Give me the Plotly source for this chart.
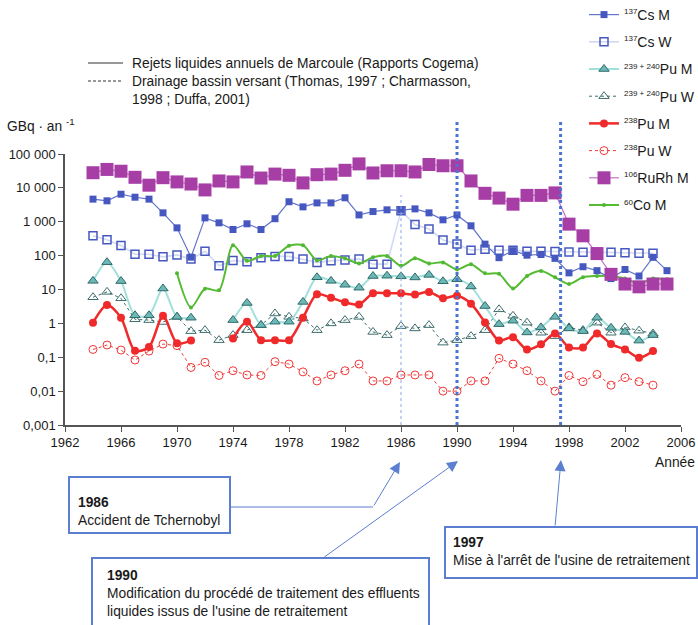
import plotly.graph_objects as go

# Annual liquid releases at Marcoule (M) and catchment drainage (W), GBq per year
years = list(range(1964, 2006))

cs137_m = [4650, 4150, 6500, 5300, 4650, 1830, 660, 90, 1300, 930,
           590, 870, 590, 1230, 3900, 2750, 3600, 3600, 5100, 1590,
           2000, 2250, 2200, 2400, 1830, 1140, 1590, 760, 218, 87,
           140, 103, 108, 83, 31, 47, 36, 21, 39, 25, 89, 36]
cs137_w = [385, 295, 200, 110, 110, 92, 105, 79, 135, 50,
           72, 66, 87, 95, 95, 79, 63, 70, 74, 80,
           56, 56, 2100, 830, 610, 290, 220, 145, 155, 145,
           145, 135, 135, 133, 128, 126, 125, 125, 122, 118, 118, None]
pu239_m = [18, 64, 17.7, 1.73, 1.73, 10.7, 1.56, 1.47, None, None,
           1.25, 4.0, 0.89, 1.12, 1.12, 4.3, 23, 18, 13.8, 11.3,
           25, 25.5, 24.5, 22.7, 27, 17.5, 20, 12.3, 3.25, 0.95,
           1.2, 0.54, 0.76, 1.56, 0.71, 0.59, 1.47, 0.74, 0.56, 0.31, 0.45, None]
pu239_w = [5.9, 8.5, 5.5, 1.32, 1.25, 1.1, 1.56, 0.59, 0.63, 0.32,
           0.45, 0.63, 0.89, 1.96, 1.56, 1.4, 0.63, 1.0, 1.25, 1.56,
           0.56, 0.45, 0.83, 0.71, 0.89, 0.27, 0.32, 0.42, 0.63, 2.6,
           1.67, 1.05, 0.53, 0.42, 0.76, 0.63, 1.05, 0.53, 0.76, 0.61, 0.5, None]
pu238_m = [1.05, 3.5, 1.47, 0.155, 0.2, 1.67, 0.26, 0.31, None, None,
           0.36, 1.12, 0.32, 0.32, 0.32, 1.47, 7.3, 5.7, 4.2, 3.6,
           7.7, 7.7, 7.7, 7.1, 8.5, 5.5, 6.5, 3.8, 1.07, 0.31,
           0.39, 0.17, 0.24, 0.5, 0.195, 0.195, 0.5, 0.245, 0.17, 0.097, 0.152, None]
pu238_w = [0.17, 0.23, 0.163, 0.083, 0.152, 0.245, 0.22, 0.05, 0.071, 0.029,
           0.04, 0.03, 0.029, 0.074, 0.063, 0.037, 0.02, 0.03, 0.04, 0.063,
           0.02, 0.02, 0.03, 0.03, 0.03, 0.01, 0.01, 0.02, 0.02, 0.093,
           0.063, 0.04, 0.02, 0.01, 0.029, 0.019, 0.031, 0.015, 0.025, 0.019, 0.015, None]
rurh106_m = [28000, 35000, 31000, 20500, 12000, 20000, 15000, 13000, 8700, 16000,
             15000, 29500, 19500, 25500, 23500, 14000, 24500, 25500, 33000, 51000,
             27500, 32000, 32000, 29500, 49000, 45000, 45000, 16000, 6900, 5000,
             3300, 6000, 6000, 7100, 850, 385, 115, 28, 14.5, 12, 14.5, 14.5]
co60_m = [None, None, None, None, None, None, 30, 2.95, 10.5, 9.5,
          204, 70, 98, 98, 195, 204, 72, 98, 83, 59,
          89, 98, 50, 83, 59, 63, 39, 56, 30, 29,
          10.7, 25, 35, 23, 14.5, 23, 25, 25, 21, 15, 21, 20]

y_tickvals = [0.001, 0.01, 0.1, 1, 10, 100, 1000, 10000, 100000]
y_ticktext = ["0,001", "0,01", "0,1", "1", "10", "100", "1 000", "10 000", "100 000"]
x_tickvals = list(range(1962, 2007, 4))

event_years = [1986, 1990, 1997.4]

W, H = 698, 625
L, R, T, B = 65, 681, 154, 425   # plot area in pixels


def px(x):
    return (x - L) / (R - L)


def py(y):
    return (B - y) / (B - T)


def iso(mass, element):
    # small raised mass number in front of the element symbol
    return f'<sup><span style="font-size:8px">{mass}</span></sup>{element}'


FONT = "Liberation Sans, Arial, sans-serif"
BLUE = "#5b7fd0"
TXT = 13.8

fig = go.Figure()

series = [
    # (name, values, legend rank, marker, line, shape)
    (iso("137", "Cs W"), cs137_w, 2,
     dict(symbol="square-open", size=8, color="#4658c0", line=dict(width=1.5)),
     dict(color="#d3d9f3", width=1.6), "linear"),
    (iso("239 + 240", "Pu W"), pu239_w, 4,
     dict(symbol="triangle-up-open", size=9, color="#3e6d6d", line=dict(width=1)),
     dict(color="#3e6d6d", width=1, dash="dot"), "linear"),
    (iso("238", "Pu W"), pu238_w, 6,
     dict(symbol="circle-open", size=8, color="#f03a3a", line=dict(width=1)),
     dict(color="#f03a3a", width=1, dash="dot"), "linear"),
    (iso("60", "Co M"), co60_m, 8,
     dict(symbol="circle", size=4, color="#50b832"),
     dict(color="#55bb33", width=2), "spline"),
    (iso("137", "Cs M"), cs137_m, 1,
     dict(symbol="square", size=7, color="#4658c0"),
     dict(color="#6275cb", width=1.2), "linear"),
    (iso("239 + 240", "Pu M"), pu239_m, 3,
     dict(symbol="triangle-up", size=9, color="#6cb8b6", line=dict(color="#2f6a6a", width=1)),
     dict(color="#a2e0dc", width=2), "spline"),
    (iso("238", "Pu M"), pu238_m, 5,
     dict(symbol="circle", size=8, color="#f02a2a"),
     dict(color="#f02a2a", width=2.5), "spline"),
    (iso("106", "RuRh M"), rurh106_m, 7,
     dict(symbol="square", size=13, color="#a63ea6"),
     dict(color="#c470c4", width=1.2), "linear"),
]

for name, vals, rank, marker, line, shape in series:
    line = dict(line)
    line["shape"] = shape
    if shape == "spline":
        line["smoothing"] = 0.8
    fig.add_trace(go.Scatter(
        x=years, y=vals, name=name, mode="lines+markers",
        marker=marker, line=line, legendrank=rank,
        legendgroup=str(rank), connectgaps=False,
    ))

shapes = []
# event markers: 1986 thin, 1990 and 1997 thick
shapes.append(dict(type="line", xref="x", yref="paper", x0=event_years[0], x1=event_years[0],
                   y0=0, y1=py(195), line=dict(color="#8aa8e4", width=1, dash="dot")))
for yr in event_years[1:]:
    shapes.append(dict(type="line", xref="x", yref="paper", x0=yr, x1=yr,
                       y0=0, y1=py(119), line=dict(color="#4a74d0", width=3, dash="dot")))

# source key at top left
shapes.append(dict(type="line", xref="paper", yref="paper", x0=px(88), x1=px(123),
                   y0=py(63), y1=py(63), line=dict(color="#333", width=1)))
shapes.append(dict(type="line", xref="paper", yref="paper", x0=px(88), x1=px(123),
                   y0=py(81), y1=py(81), line=dict(color="#333", width=1, dash="3px,2px")))

# event boxes
boxes = [(69, 477, 230, 533), (92, 558, 429, 640), (445, 527, 697, 578)]
for x0, y0, x1, y1 in boxes:
    shapes.append(dict(type="rect", xref="paper", yref="paper",
                       x0=px(x0), x1=px(x1), y0=py(y1), y1=py(y0),
                       line=dict(color=BLUE, width=2), fillcolor="white", layer="above"))
# connector from the 1986 box
shapes.append(dict(type="line", xref="paper", yref="paper", x0=px(230), x1=px(373),
                   y0=py(507), y1=py(507), line=dict(color=BLUE, width=1)))

annotations = []
txt = dict(xref="paper", yref="paper", showarrow=False, xanchor="left",
           font=dict(family=FONT, size=TXT, color="#1a1a1a"), align="left")
annotations.append(dict(txt, x=px(130), y=py(63), yanchor="middle",
                        text="Rejets liquides annuels de Marcoule (Rapports Cogema)"))
annotations.append(dict(txt, x=px(130), y=py(72), yanchor="top",
                        text="Drainage bassin versant (Thomas, 1997 ; Charmasson,<br>1998 ; Duffa, 2001)"))
annotations.append(dict(txt, x=px(5), y=py(125), yanchor="middle",
                        text="GBq · an <sup>-1</sup>"))
annotations.append(dict(txt, x=px(697), y=py(463), yanchor="middle", xanchor="right",
                        text="Année"))
annotations.append(dict(txt, x=px(76), y=py(493), yanchor="top",
                        text="<b>1986</b><br>Accident de Tchernobyl"))
annotations.append(dict(txt, x=px(105), y=py(566), yanchor="top",
                        text="<b>1990</b><br>Modification du procédé de traitement des effluents"
                             "<br>liquides issus de l'usine de retraitement"))
annotations.append(dict(txt, x=px(451), y=py(533), yanchor="top",
                        text="<b>1997</b><br>Mise à l'arrêt de l'usine de retraitement"))

arrows = [((400, 462), (373, 507)), ((458, 461), (323, 558)), ((561, 460), (555, 527))]
for (tx, ty), (sx, sy) in arrows:
    annotations.append(dict(xref="paper", yref="paper", x=px(tx), y=py(ty), text="",
                            showarrow=True, arrowhead=2, arrowsize=2.2, arrowwidth=1,
                            arrowcolor=BLUE, ax=sx - tx, ay=sy - ty))

fig.update_layout(
    width=W, height=H,
    margin=dict(l=L, r=W - R, t=T, b=H - B, autoexpand=False),
    paper_bgcolor="white", plot_bgcolor="white",
    font=dict(family=FONT, size=13, color="#1a1a1a"),
    shapes=shapes, annotations=annotations,
    legend=dict(x=px(584), y=py(-1), xanchor="left", yanchor="top",
                bgcolor="rgba(0,0,0,0)", font=dict(family=FONT, size=14),
                tracegroupgap=6, itemwidth=30),
    xaxis=dict(range=[1962, 2006], tickvals=x_tickvals, showgrid=False, zeroline=False,
               showline=True, linecolor="#555", linewidth=1.5, ticks="outside",
               ticklen=5, tickcolor="#555", tickfont=dict(size=13)),
    yaxis=dict(type="log", range=[-3, 5], tickvals=y_tickvals, ticktext=y_ticktext,
               showgrid=False, zeroline=False, showline=True, linecolor="#555",
               linewidth=1.5, ticks="outside", ticklen=5, tickcolor="#555",
               tickfont=dict(size=13)),
)

fig.write_html("out.html")
